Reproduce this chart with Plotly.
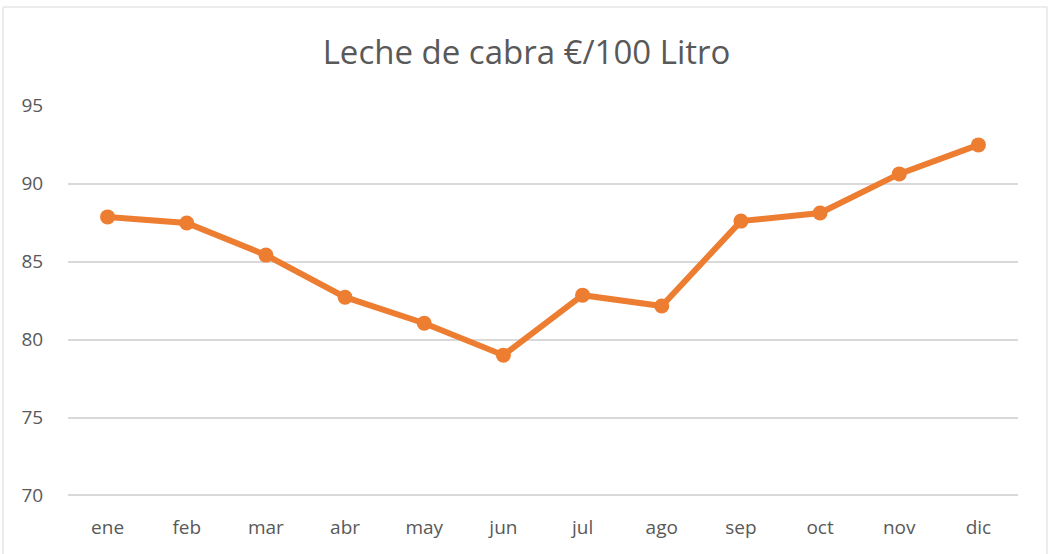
import plotly.graph_objects as go

# Datos
meses = ['ene', 'feb', 'mar', 'abr', 'may', 'jun', 'jul', 'ago', 'sep', 'oct', 'nov', 'dic']
precio = [87.87, 87.48, 85.42, 82.72, 81.05, 79.0, 82.85, 82.15, 87.6, 88.12, 90.63, 92.49]

naranja = '#ed7d31'
gris_texto = '#595959'

fig = go.Figure()
fig.add_trace(
    go.Scatter(
        x=meses,
        y=precio,
        mode='lines+markers',
        line=dict(color=naranja, width=6),
        marker=dict(color=naranja, size=15),
        showlegend=False
    )
)

# Marco gris alrededor del gráfico
fig.add_shape(
    type='rect', xref='paper', yref='paper',
    x0=-0.0684, x1=1.0305, y0=-0.2, y1=1.25,
    line=dict(color='#d9d9d9', width=1), layer='below'
)

fig.update_layout(
    width=1053, height=554,
    margin=dict(l=68, r=35, t=105, b=57),
    paper_bgcolor='white',
    plot_bgcolor='white',
    font=dict(family='Open Sans, Liberation Sans, sans-serif', color=gris_texto, size=19),
    title=dict(
        text='Leche de cabra €/100 Litro',
        x=0.5, xanchor='center',
        y=0.906, yanchor='middle',
        font=dict(size=33, color=gris_texto)
    )
)

fig.update_xaxes(
    range=[-0.5, 11.5],
    showgrid=False, showline=False, zeroline=False,
    ticks='outside', ticklen=13, tickcolor='rgba(0,0,0,0)',
    tickfont=dict(size=19, color=gris_texto)
)
fig.update_yaxes(
    range=[69.9, 95.05],
    tickvals=[70, 75, 80, 85, 90, 95],
    showgrid=True, gridcolor='#d9d9d9', gridwidth=1.5,
    zeroline=False, showline=False,
    ticks='outside', ticklen=20, tickcolor='rgba(0,0,0,0)',
    tickfont=dict(size=19, color=gris_texto)
)

# quitar el margen del body para que el gráfico ocupe la ventana entera
fig.write_html("out.html", config={'displayModeBar': False},
               post_script="document.body.style.margin='0';")
